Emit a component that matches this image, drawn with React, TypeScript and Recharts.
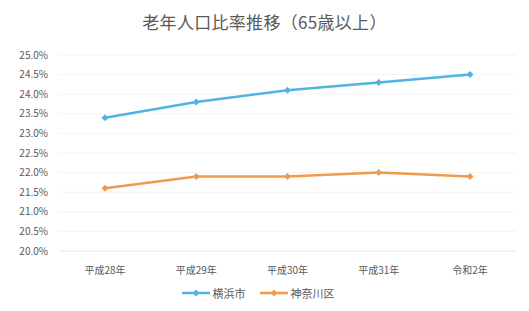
import { LineChart, Line, XAxis, YAxis, CartesianGrid, Legend } from 'recharts';

const years = ['平成28年', '平成29年', '平成30年', '平成31年', '令和2年'];
const yokohama = [23.4, 23.8, 24.1, 24.3, 24.5];
const kanagawaKu = [21.6, 21.9, 21.9, 22.0, 21.9];
const yTicks = [20, 20.5, 21, 21.5, 22, 22.5, 23, 23.5, 24, 24.5, 25];

const BLUE = '#4fb4e3';
const ORANGE = '#f29a4c';
const TEXT = '#595959';
const FONT = '"Noto Sans CJK JP", "Noto Sans", sans-serif';

const data = years.map((year, i) => ({
  year,
  yokohama: yokohama[i],
  kanagawaKu: kanagawaKu[i],
}));

// small diamond marker like the Excel original
const Diamond = (props: any) => {
  const { cx, cy, stroke } = props;
  if (cx == null || cy == null) return null;
  const s = 3.5;
  return <path d={`M${cx},${cy - s}L${cx + s},${cy}L${cx},${cy + s}L${cx - s},${cy}Z`} fill={stroke} />;
};

const LegendContent = (props: any) => {
  const { payload } = props;
  return (
    <div style={{ display: 'flex', justifyContent: 'center', gap: 14, fontFamily: FONT, fontSize: 11, color: TEXT }}>
      {(payload || []).map((entry: any) => (
        <div key={entry.value} style={{ display: 'flex', alignItems: 'center', gap: 3 }}>
          <svg width={28} height={10}>
            <line x1={0} y1={5} x2={28} y2={5} stroke={entry.color} strokeWidth={2.5} />
            <path d="M14,1.5L17.5,5L14,8.5L10.5,5Z" fill={entry.color} />
          </svg>
          <span>{entry.value}</span>
        </div>
      ))}
    </div>
  );
};

export default function App() {
  return (
    <div style={{ position: 'absolute', left: 0, top: 0, width: 529, height: 311, background: '#fff' }}>
      <div
        style={{
          position: 'absolute',
          top: 9,
          left: 0,
          width: 529,
          textAlign: 'center',
          fontFamily: FONT,
          fontSize: 17,
          color: TEXT,
          letterSpacing: 0.3,
        }}
      >
        老年人口比率推移（65歳以上）
      </div>
      <LineChart
        width={529}
        height={311}
        data={data}
        margin={{ top: 55, right: 13, bottom: 2, left: 0 }}
      >
        <CartesianGrid vertical={false} stroke="#f3f3f3" />
        <XAxis
          dataKey="year"
          padding={{ left: 46, right: 46 }}
          axisLine={{ stroke: '#eeeeee' }}
          tickLine={false}
          tickMargin={10}
          height={34}
          tick={{ fill: TEXT, fontSize: 10, fontFamily: FONT }}
        />
        <YAxis
          domain={[20, 25]}
          ticks={yTicks}
          interval={0}
          width={59}
          axisLine={false}
          tickLine={false}
          tickMargin={5}
          tickFormatter={(v: number) => `${v.toFixed(1)}%`}
          tick={{ fill: TEXT, fontSize: 10, fontFamily: FONT }}
        />
        <Legend verticalAlign="bottom" height={24} content={<LegendContent />} />
        <Line
          dataKey="yokohama"
          name="横浜市"
          stroke={BLUE}
          strokeWidth={2.5}
          dot={<Diamond />}
          activeDot={false}
          isAnimationActive={false}
        />
        <Line
          dataKey="kanagawaKu"
          name="神奈川区"
          stroke={ORANGE}
          strokeWidth={2.5}
          dot={<Diamond />}
          activeDot={false}
          isAnimationActive={false}
        />
      </LineChart>
    </div>
  );
}
